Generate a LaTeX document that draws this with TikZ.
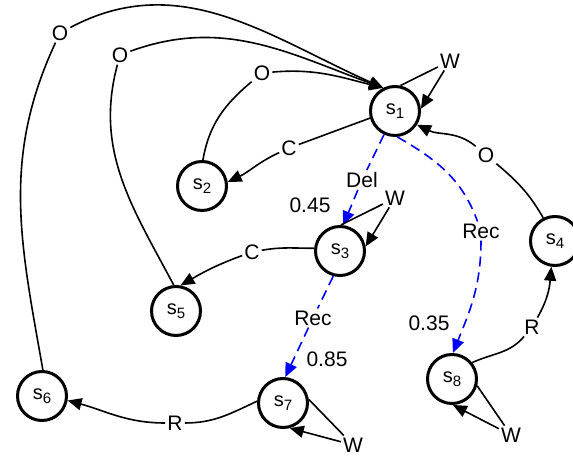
\documentclass[tikz,border=0pt]{standalone}
\usepackage{fontspec}
\setmainfont{Liberation Sans}
\usetikzlibrary{arrows.meta}
\newcommand{\stname}[1]{s\raisebox{-3.5pt}{\fontsize{15}{15}\selectfont #1}}
\tikzset{
  state/.style={circle, draw, line width=3pt, minimum size=49pt, inner sep=0pt, font=\fontsize{20}{20}\selectfont},
  edge/.style={line width=1.6pt, -{Triangle[length=14pt,width=12pt]}},
  prob/.style={line width=1.6pt, blue, dash pattern=on 10pt off 6pt, -{Triangle[length=14pt,width=12pt]}},
  lab/.style={fill=white, inner sep=2pt, font=\fontsize{21}{21}\selectfont},
  num/.style={inner sep=0pt, font=\fontsize{21}{21}\selectfont}
}
\begin{document}
\begin{tikzpicture}[x=1pt,y=1pt]
\useasboundingbox (0,0) rectangle (573,457);
% states
\node[state] (s1) at (395,346) {\stname{1}};
\node[state] (s2) at (202,271) {\stname{2}};
\node[state] (s3) at (340,206) {\stname{3}};
\node[state] (s4) at (555,216) {\stname{4}};
\node[state] (s5) at (176,146) {\stname{5}};
\node[state] (s6) at (42,61) {\stname{6}};
\node[state] (s7) at (283,54) {\stname{7}};
\node[state] (s8) at (452,78) {\stname{8}};
% labels
\node[lab] (l6) at (60,424) {O};
\node[lab] (l5) at (120,402) {O};
\node[lab] (l2) at (262,384) {O};
\node[lab] (lc1) at (289,309) {C};
\node[lab] (ldel) at (362,277) {Del};
\node[num] (p45) at (310,252) {0.45};
\node[lab] (lw1) at (450,396) {W};
\node[lab] (lo4) at (486,302) {O};
\node[lab] (lrec1) at (481,226) {Rec};
\node[num] (p35) at (429,134) {0.35};
\node[lab] (lw3) at (395,259) {W};
\node[lab] (lc3) at (252,205) {C};
\node[lab] (lrec3) at (313,139) {Rec};
\node[num] (p85) at (327,98) {0.85};
\node[lab] (lr7) at (175,34) {R};
\node[lab] (lw7) at (353,12) {W};
\node[lab] (lr8) at (532,130) {R};
\node[lab] (lw8) at (511,22) {W};
% O edges into s1
\draw[edge] (s6.88) to[out=100,in=-115] (l6) to[out=28,in=156] (s1.117);
\draw[edge] (s5.95) to[out=118,in=-105] (l5) to[out=20,in=160] (s1.117);
\draw[edge] (s2.88) to[out=80,in=-140] (l2) to[out=5,in=166] (s1.117);
\draw[edge] (s4.117) to[out=120,in=-40] (lo4) to[out=140,in=-26] (s1.-32);
% s1 self loop
\draw[edge] (s1.78) -- (lw1) -- (s1.5);
% C edges
\draw[edge] (s1.196) to[out=200,in=20] (lc1) to[out=205,in=25] (s2.9);
\draw[edge] (s3.174) to[out=180,in=10] (lc3) to[out=200,in=30] (s5.80);
% probabilistic edges
\draw[prob] (s1.-115) -- (ldel) -- (s3.83);
\draw[prob] (s1.-85) to[out=-30,in=110] (lrec1) to[out=-90,in=68] (s8.88);
\draw[prob] (s3.-105) -- (lrec3) -- (s7.85);
% s3 self loop
\draw[edge] (s3.88) -- (lw3) -- (s3.10);
% R edges
\draw[edge] (s7.176) to[out=205,in=0] (lr7) to[out=180,in=-15] (s6.-10);
\draw[edge] (s8.39) to[out=25,in=-130] (lr8) to[out=60,in=-95] (s4.-98);
% s7, s8 self loops
\draw[edge] (s7.8) -- (lw7) -- (s7.-75);
\draw[edge] (s8.-15) -- (lw8) -- (s8.-88);
\end{tikzpicture}
\end{document}
